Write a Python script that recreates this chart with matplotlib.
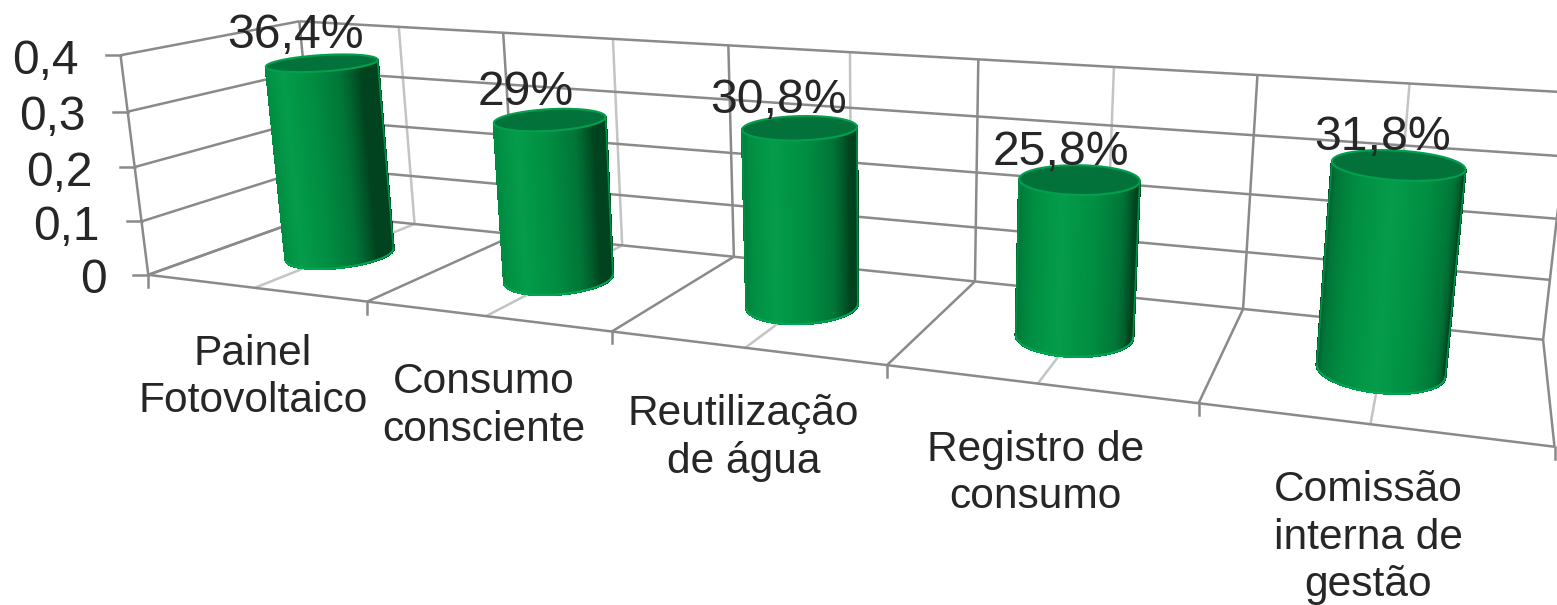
import matplotlib
matplotlib.use("Agg")
import matplotlib.pyplot as plt
from matplotlib.collections import PolyCollection
from matplotlib.colors import to_rgb
from matplotlib.patches import Polygon
import numpy as np

plt.rcParams["font.family"] = ["Liberation Sans", "DejaVu Sans"]

categories = [
    "Painel\nFotovoltaico",
    "Consumo\nconsciente",
    "Reutilização\nde água",
    "Registro de\nconsumo",
    "Comissão\ninterna de\ngestão",
]
values = [0.364, 0.29, 0.308, 0.258, 0.318]
value_labels = ["36,4%", "29%", "30,8%", "25,8%", "31,8%"]
z_ticks = [0, 0.1, 0.2, 0.3, 0.4]
z_labels = ["0", "0,1", "0,2", "0,3", "0,4"]

# (category x, depth y, value z) -> pixel, used to fit the chart's perspective
world_pts = [
    (0, 0, 0), (1, 0, 0), (2, 0, 0), (3, 0, 0), (4, 0, 0), (5, 0, 0),
    (0, 0, 0.1), (0, 0, 0.2), (0, 0, 0.3), (0, 0, 0.4),
    (0, 1, 0), (0.5, 1, 0), (4, 1, 0), (5, 1, 0),
    (0, 1, 0.4), (0.5, 1, 0.4), (1, 1, 0.4), (3.5, 1, 0.4), (4, 1, 0.4), (4.5, 1, 0.4), (5, 1, 0.4),
]
pixel_pts = [
    (147, 275), (367, 302), (611, 333), (888, 365), (1198, 403), (1555, 445),
    (141, 221), (135, 167), (128, 112), (122, 55),
    (322, 213), (412, 224), (1243, 310), (1543, 340),
    (298, 21), (398, 27), (503, 33), (1115, 68), (1258, 75), (1410, 83), (1570, 92),
]


def fit_camera(world, pixel):
    rows = []
    rhs = []
    for (x, y, z), (u, v) in zip(world, pixel):
        rows.append([x, y, z, 1, 0, 0, 0, 0, -u * x, -u * y, -u * z])
        rows.append([0, 0, 0, 0, x, y, z, 1, -v * x, -v * y, -v * z])
        rhs += [u, v]
    p = np.linalg.lstsq(np.array(rows, float), np.array(rhs, float), rcond=None)[0]
    return np.append(p, 1).reshape(3, 4)


camera = fit_camera(world_pts, pixel_pts)


def project(x, y, z):
    x, y, z = np.broadcast_arrays(x, y, z)
    pts = camera @ np.array([x, y, z, np.ones_like(x)], float)
    return pts[0] / pts[2], pts[1] / pts[2]


def line3d(ax, a, b, color, lw=1.8, zorder=1):
    u, v = project(*np.array([a, b], float).T)
    ax.plot(u, v, color=color, lw=lw, zorder=zorder, solid_capstyle="butt")


def shade(angle):
    # angle away from the normal that looks straight out of the back wall
    stops = [0, 30, 60, 85, 180]
    colors = np.array([to_rgb(c) for c in ["#049c4a", "#008e42", "#007537", "#00431e", "#00431e"]])
    return [np.interp(angle, stops, colors[:, k]) for k in range(3)]


def draw_cylinder(ax, x0, height, rx=0.197, ry=0.22, y0=0.5, n=360):
    t = np.linspace(0, 2 * np.pi, n + 1)
    cx = x0 + rx * np.cos(t)
    cy = y0 + ry * np.sin(t)
    bu, bv = project(cx, cy, 0)
    tu, tv = project(cx, cy, height)
    quads = []
    colors = []
    visible = []
    for i in range(n):
        quad = np.array([[bu[i], bv[i]], [bu[i + 1], bv[i + 1]], [tu[i + 1], tv[i + 1]], [tu[i], tv[i]]])
        qx, qy = quad[:, 0], quad[:, 1]
        area = 0.5 * np.sum(qx * np.roll(qy, -1) - np.roll(qx, -1) * qy)
        if area > 0:
            continue
        mid = np.degrees(0.5 * (t[i] + t[i + 1]))
        quads.append(quad)
        colors.append(shade(abs((mid + 90 + 180) % 360 - 180)))
        visible.append(i)
    ax.add_collection(PolyCollection(quads, facecolors=colors, edgecolors=colors, linewidths=1.2,
                                     antialiased=False, zorder=3))

    # outline of the visible side, visible facets run along one arc
    visible = np.array(visible)
    gap = np.argmax(np.diff(visible) > 1) if np.any(np.diff(visible) > 1) else -1
    order = np.roll(visible, -(gap + 1))
    arc = np.append(order, (order[-1] + 1) % n)
    ax.plot(bu[arc], bv[arc], color="#00a651", lw=1.5, zorder=4)
    ax.plot([bu[arc[0]], tu[arc[0]]], [bv[arc[0]], tv[arc[0]]], color="#008f45", lw=1.2, zorder=4)
    ax.plot([bu[arc[-1]], tu[arc[-1]]], [bv[arc[-1]], tv[arc[-1]]], color="#008f45", lw=1.2, zorder=4)
    ax.add_patch(Polygon(np.c_[tu, tv], closed=True, facecolor="#03723a", edgecolor="#00a04e", lw=1.5, zorder=5))


fig = plt.figure(figsize=(15.57, 6.05), dpi=100)
ax = fig.add_axes([0, 0, 1, 1])
ax.set_xlim(0, 1557)
ax.set_ylim(605, 0)
ax.axis("off")

dark = "#8a8a8a"
light = "#c4c4c4"
n_cat = len(categories)
z_top = z_ticks[-1]

# light lines in the middle of every category
for i in range(n_cat):
    line3d(ax, (i + 0.5, 0, 0), (i + 0.5, 1, 0), light)
    line3d(ax, (i + 0.5, 1, 0), (i + 0.5, 1, z_top), light)

for z in z_ticks:
    line3d(ax, (0, 0, z), (0, 1, z), dark)
    line3d(ax, (0, 1, z), (n_cat, 1, z), dark)
    u, v = project(0, 0, z)
    ax.plot([u - 15, u], [v, v], color=dark, lw=1.8, zorder=1)

for i in range(n_cat + 1):
    line3d(ax, (i, 0, 0), (i, 1, 0), dark)
    line3d(ax, (i, 1, 0), (i, 1, z_top), dark)
    u, v = project(i, 0, 0)
    ax.plot([u, u], [v, v + 12], color=dark, lw=1.8, zorder=1)

line3d(ax, (0, 0, 0), (n_cat, 0, 0), dark)
line3d(ax, (0, 0, 0), (0, 0, z_top), dark)

for i, val in enumerate(values):
    draw_cylinder(ax, i + 0.5, val)

for z, label in zip(z_ticks, z_labels):
    u, v = project(0, 0, z)
    ax.text(u - 42, v + 6, label, fontsize=34.5, color="#262626", ha="right", va="center", zorder=6)

for i, (val, label) in enumerate(zip(values, value_labels)):
    u, v = project(i + 0.5, 0.5, val)
    ax.text(u - 27 + 3 * i, v - 27, label, fontsize=34.7, color="#262626", ha="center", va="center", zorder=6)

for i, label in enumerate(categories):
    u, v = project(i + 0.5, 0, 0)
    ax.text(u - 2, v + 46, label, fontsize=30.6, color="#262626", ha="center", va="top",
            linespacing=1.24, zorder=6)

fig.savefig("out.png", dpi=100)
